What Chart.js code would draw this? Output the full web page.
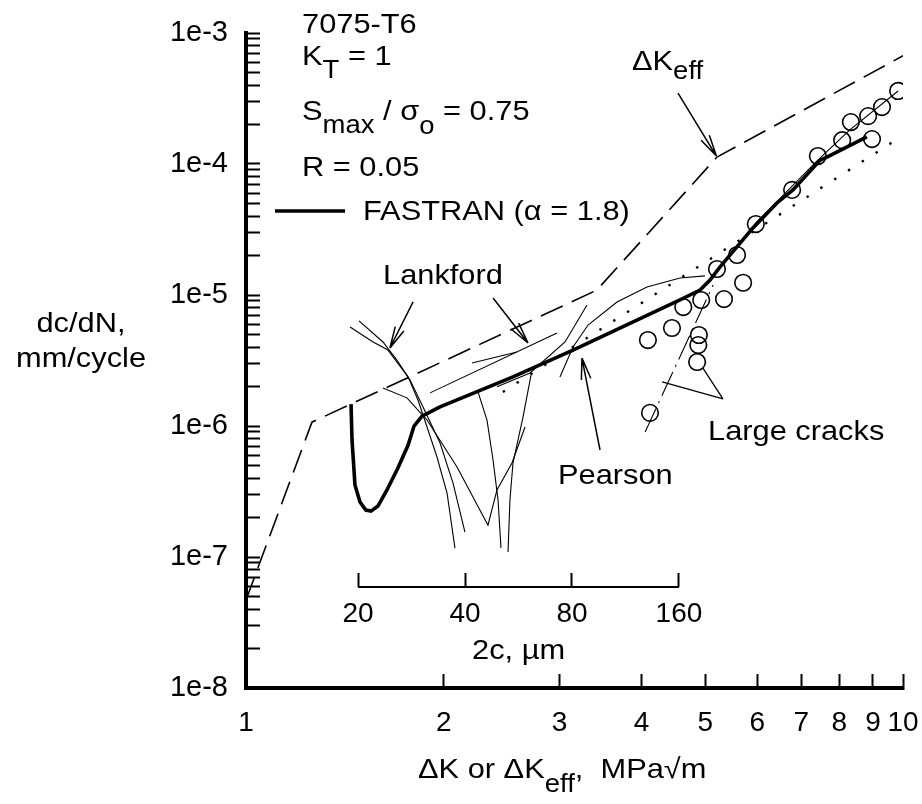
<!DOCTYPE html>
<html>
<head>
<meta charset="utf-8">
<script src="https://cdn.jsdelivr.net/npm/chart.js@4.4.1/dist/chart.umd.min.js"></script>
<style>
html,body{margin:0;padding:0;background:#fff;}
#wrap{width:922px;height:804px;}
</style>
</head>
<body>
<div id="wrap"><canvas id="myChart" width="922" height="804"></canvas></div>
<script>
// axis ticks
const xTicks = [1, 2, 3, 4, 5, 6, 7, 8, 9, 10];
const yMajorTicks = [1e-8, 1e-7, 1e-6, 1e-5, 1e-4, 1e-3];
const yMajorLabels = ['1e-8', '1e-7', '1e-6', '1e-5', '1e-4', '1e-3'];
const twoCTicks = [20, 40, 80, 160];   // crack length 2c, um (inset axis)
const insetY = 5.9e-8;                 // rate level where the 2c axis sits

// delta K_eff (dashed)
const dkEffX = [1, 1.26, 3.42, 5.21, 10];
const dkEffY = [4.7e-8, 1.07e-6, 1.09e-5, 1.13e-4, 6.7e-4];

// FASTRAN (alpha = 1.8), thick line
const fastranX = [1.445, 1.45, 1.465, 1.491, 1.522, 1.55, 1.588, 1.639, 1.703, 1.765, 1.802, 1.853, 1.974,
  2.549, 3.146, 4.577, 4.91, 5.085, 5.267, 5.91, 6.43, 6.80, 7.48, 7.66, 8.81];
const fastranY = [1.47e-6, 7.82e-7, 3.55e-7, 2.63e-7, 2.28e-7, 2.24e-7, 2.45e-7, 3.25e-7, 4.78e-7, 7.16e-7, 1.0e-6, 1.19e-6, 1.40e-6,
  2.37e-6, 3.80e-6, 9.16e-6, 1.09e-5, 1.30e-5, 1.64e-5, 3.25e-5, 5.04e-5, 6.34e-5, 1.07e-4, 1.13e-4, 1.61e-4];

// Pearson (dotted)
const pearsonX = [2.46, 9.9];
const pearsonY = [1.82e-6, 1.6e-4];

// Lankford small-crack data (thin lines)
const lankford = [
  {x: [1.44, 1.561, 1.645, 1.765, 1.827, 1.886, 1.953, 2.023, 2.08], y: [5.7e-6, 4.38e-6, 3.8e-6, 2.37e-6, 1.58e-6, 9.83e-7, 5.8e-7, 3.08e-7, 1.17e-7]},
  {x: [1.486, 1.616, 1.697, 1.777, 1.859, 1.974, 2.066, 2.154], y: [6.34e-6, 4.38e-6, 3.19e-6, 2.24e-6, 1.4e-6, 7.41e-7, 3.67e-7, 1.55e-7]},
  {x: [1.616, 1.758, 1.886, 2.095, 2.335, 2.41, 2.54, 2.659], y: [1.95e-6, 1.64e-6, 1.11e-6, 4.86e-7, 1.75e-7, 3.25e-7, 5.22e-7, 9.83e-7]},
  {x: [2.255, 2.327, 2.377, 2.419, 2.444], y: [1.82e-6, 1.11e-6, 5.5e-7, 2.72e-7, 1.17e-7]},
  {x: [2.72, 2.706, 2.64, 2.549, 2.522, 2.505], y: [2.54e-6, 2.24e-6, 1.17e-6, 5.22e-7, 2.72e-7, 1.09e-7]},
  {x: [1.906, 2.974], y: [1.79e-6, 5.13e-6]},
  {x: [2.208, 2.585], y: [3.03e-6, 3.67e-6]},
  {x: [2.41, 2.706, 3.059, 3.304], y: [1.99e-6, 2.54e-6, 4.38e-6, 8.39e-6]},
  {x: [3.005, 3.146, 3.316, 3.67, 4.077, 4.577, 4.995], y: [2.37e-6, 4.01e-6, 5.9e-6, 8.85e-6, 1.15e-5, 1.35e-5, 1.4e-5]}
];

// large cracks (open circles) and their trend lines
const lcX = [9.83, 9.29, 8.85, 8.33, 8.08, 8.97, 7.42, 6.78, 5.97, 5.59, 5.21, 5.71, 5.34, 4.93, 4.63, 4.45, 4.09, 4.89, 4.88, 4.86, 4.12];
const lcY = [3.61e-4, 2.72e-4, 2.32e-4, 2.09e-4, 1.52e-4, 1.55e-4, 1.15e-4, 6.34e-5, 3.48e-5, 2.02e-5, 1.58e-5, 1.24e-5, 9.31e-6,
  9.16e-6, 8.09e-6, 5.6e-6, 4.53e-6, 4.95e-6, 4.15e-6, 3.08e-6, 1.26e-6];
const lcFitX = [4.995, 5.99, 7.42, 8.30, 9.83];
const lcFitY = [1.19e-5, 3.61e-5, 1.07e-4, 1.82e-4, 3.61e-4];
const lcLowX = [4.05, 5.14];
const lcLowY = [9.0e-7, 1.19e-5];

// annotation arrows and leader lines (data coords)
const arrows = [
  {from: [4.545, 3.48e-4], to: [5.2, 1.15e-4]},
  {from: [1.796, 8.85e-6], to: [1.656, 3.94e-6]},
  {from: [2.377, 9.48e-6], to: [2.687, 4.3e-6]},
  {from: [3.458, 6.56e-7], to: [3.246, 3.3e-6]}
];
const leaders = [
  {from: [5.32, 1.61e-6], to: [4.30, 2.17e-6]},
  {from: [5.32, 1.61e-6], to: [4.96, 2.77e-6]}
];

const FONT = '"Liberation Sans", Arial, Helvetica, sans-serif';
const SX = 1.1;

function pts(xs, ys) {
  return xs.map((x, i) => ({x: x, y: ys[i]}));
}

function lineSet(xs, ys, width, dash) {
  return {
    data: pts(xs, ys),
    borderColor: '#000',
    borderWidth: width,
    borderDash: dash || [],
    pointRadius: 0,
    fill: false,
    tension: 0
  };
}

const datasets = [];
lankford.forEach(c => datasets.push(lineSet(c.x, c.y, 1.1)));
datasets.push(lineSet(dkEffX, dkEffY, 1.6, [24, 10]));
datasets.push(lineSet(pearsonX, pearsonY, 2.4, [2.4, 14]));
datasets.push(lineSet(lcFitX, lcFitY, 1.1));
datasets.push(lineSet(lcLowX, lcLowY, 1.1, [26, 6, 2, 6]));
datasets.push({
  data: pts(lcX, lcY),
  showLine: false,
  pointStyle: 'circle',
  pointRadius: 8.3,
  pointBorderWidth: 1.6,
  pointBorderColor: '#000',
  pointBackgroundColor: 'rgba(0,0,0,0)'
});
datasets.push(lineSet(fastranX, fastranY, 3.6));
// inset 2c axis line
const insetLine = lineSet([twoCTicks[0], twoCTicks[twoCTicks.length - 1]], [insetY, insetY], 2);
insetLine.xAxisID = 'x2';
datasets.push(insetLine);

// text notes (pixel layout)
const notes = [
  {x: 302, y: 33, parts: [['7075-T6']]},
  {x: 302, y: 65, parts: [['K'], ['T', 13], [' = 1']]},
  {x: 302, y: 120, parts: [['S'], ['max', 13], [' / σ'], ['o', 14], [' = 0.75']]},
  {x: 302, y: 176, parts: [['R = 0.05']]},
  {x: 363, y: 220, parts: [['FASTRAN (α = 1.8)']]},
  {x: 632, y: 70, parts: [['ΔK'], ['eff', 9]]},
  {x: 383, y: 284, parts: [['Lankford']]},
  {x: 558, y: 484, parts: [['Pearson']]},
  {x: 708, y: 440, parts: [['Large cracks']]},
  {x: 472, y: 659, parts: [['2c, µm']]},
  {x: 418, y: 778, parts: [['ΔK or ΔK'], ['eff', 14], [',  MPa√m']]},
  {cx: 81, y: 332, parts: [['dc/dN,']]},
  {cx: 81, y: 367, parts: [['mm/cycle']]}
];

function drawNote(ctx, n) {
  const size = 28, sub = 25;
  let total = 0;
  n.parts.forEach(p => {
    ctx.font = (p.length > 1 ? sub : size) + 'px ' + FONT;
    total += ctx.measureText(p[0]).width * SX;
  });
  let cur = n.cx !== undefined ? n.cx - total / 2 : n.x;
  n.parts.forEach(p => {
    ctx.font = (p.length > 1 ? sub : size) + 'px ' + FONT;
    const w = ctx.measureText(p[0]).width * SX;
    ctx.save();
    ctx.translate(cur, n.y + (p.length > 1 ? p[1] : 0));
    ctx.scale(SX, 1);
    ctx.fillText(p[0], 0, 0);
    ctx.restore();
    cur += w;
  });
}

const extras = {
  id: 'extras',
  beforeDraw(chart) {
    const ctx = chart.ctx;
    ctx.save();
    ctx.fillStyle = '#fff';
    ctx.fillRect(0, 0, chart.width, chart.height);
    ctx.restore();
  },
  afterDraw(chart) {
    const ctx = chart.ctx;
    const sx = chart.scales.x, sy = chart.scales.y;
    ctx.save();
    ctx.fillStyle = '#000';
    ctx.strokeStyle = '#000';
    ctx.textBaseline = 'alphabetic';
    ctx.textAlign = 'left';
    notes.forEach(n => drawNote(ctx, n));

    // legend sample
    ctx.lineWidth = 3.6;
    ctx.beginPath();
    ctx.moveTo(275, 211);
    ctx.lineTo(345, 211);
    ctx.stroke();

    ctx.lineWidth = 1.5;
    arrows.forEach(a => {
      const x1 = sx.getPixelForValue(a.from[0]), y1 = sy.getPixelForValue(a.from[1]);
      const x2 = sx.getPixelForValue(a.to[0]), y2 = sy.getPixelForValue(a.to[1]);
      ctx.beginPath();
      ctx.moveTo(x1, y1);
      ctx.lineTo(x2, y2);
      const ang = Math.atan2(y2 - y1, x2 - x1);
      [-1, 1].forEach(s => {
        const a2 = ang + Math.PI + s * 0.22;
        ctx.moveTo(x2, y2);
        ctx.lineTo(x2 + 22 * Math.cos(a2), y2 + 22 * Math.sin(a2));
      });
      ctx.stroke();
    });
    ctx.lineWidth = 1.3;
    leaders.forEach(a => {
      ctx.beginPath();
      ctx.moveTo(sx.getPixelForValue(a.from[0]), sy.getPixelForValue(a.from[1]));
      ctx.lineTo(sx.getPixelForValue(a.to[0]), sy.getPixelForValue(a.to[1]));
      ctx.stroke();
    });
    ctx.restore();
  }
};

const tickGrid = {drawOnChartArea: false, drawTicks: true, tickLength: -14, tickWidth: 2, color: '#000'};

function noPad(s) {
  s.paddingLeft = 0;
  s.paddingRight = 0;
  s.paddingTop = 0;
  s.paddingBottom = 0;
}

new Chart(document.getElementById('myChart'), {
  type: 'line',
  data: {datasets: datasets},
  options: {
    responsive: false,
    animation: false,
    devicePixelRatio: 1,
    layout: {padding: {left: 0, top: 33, right: 19, bottom: 0}},
    plugins: {legend: {display: false}, tooltip: {enabled: false}},
    scales: {
      x: {
        type: 'logarithmic',
        position: 'bottom',
        min: 1,
        max: 10,
        afterBuildTicks: s => { s.ticks = xTicks.map(v => ({value: v})); },
        afterFit: s => { s.height = 116; noPad(s); },
        ticks: {autoSkip: false, maxRotation: 0, padding: 32, color: '#000',
          font: {family: FONT, size: 28}, callback: v => String(v)},
        grid: tickGrid,
        border: {display: true, width: 4, color: '#000'}
      },
      y: {
        type: 'logarithmic',
        position: 'left',
        min: 1e-8,
        max: 1e-3,
        afterBuildTicks: s => {
          const t = [];
          yMajorTicks.forEach((m, i) => {
            t.push({value: m});
            if (i < yMajorTicks.length - 1) {
              for (let k = 2; k <= 9; k++) t.push({value: k * m});
            }
          });
          s.ticks = t;
        },
        afterFit: s => { s.width = 246; noPad(s); },
        ticks: {autoSkip: false, padding: 32, color: '#000', font: {family: FONT, size: 29},
          callback: v => {
            const i = yMajorTicks.findIndex(m => Math.abs(v / m - 1) < 1e-6);
            return i >= 0 ? yMajorLabels[i] : '';
          }},
        grid: tickGrid,
        border: {display: true, width: 4, color: '#000'}
      },
      x2: {
        axis: 'x',
        type: 'logarithmic',
        position: {y: insetY},
        min: 9.68,
        max: 683,
        afterBuildTicks: s => { s.ticks = twoCTicks.map(v => ({value: v})); },
        afterFit: s => { noPad(s); },
        ticks: {autoSkip: false, maxRotation: 0, padding: 24, color: '#000',
          font: {family: FONT, size: 28}, callback: v => String(v)},
        grid: tickGrid,
        border: {display: false}
      }
    }
  },
  plugins: [extras]
});
</script>
</body>
</html>
